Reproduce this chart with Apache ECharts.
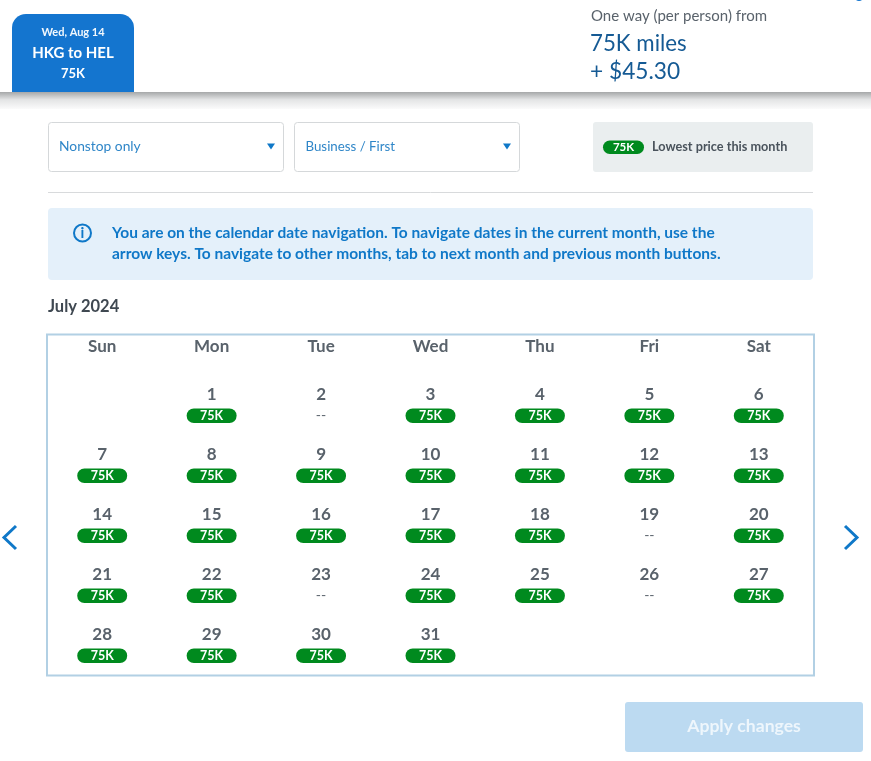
<!DOCTYPE html>
<html>
<head>
<meta charset="utf-8">
<style>
  html, body { margin: 0; padding: 0; background: #fff; }
  #main { width: 871px; height: 761px; }
</style>
<script src="https://cdn.jsdelivr.net/npm/echarts@6/dist/echarts.min.js"></script>
</head>
<body>
<div id="main"></div>
<script>
var weekdays = ['Sun', 'Mon', 'Tue', 'Wed', 'Thu', 'Fri', 'Sat'];
var weeks = ['w1', 'w2', 'w3', 'w4', 'w5'];
var firstWeekday = 1; // 1 July 2024 is a Monday
// price per day of July, thousand miles, null = no flight
var prices = [75, null, 75, 75, 75, 75, 75, 75, 75, 75, 75, 75, 75, 75, 75, 75, 75, 75, null, 75, 75, 75, null, 75, 75, null, 75, 75, 75, 75, 75];

var font = 'Lato';
var blue = '#0f78c8';
var green = '#008a1e';
var grey = '#59626b';

var cells = prices.map(function (p, i) {
    var pos = i + firstWeekday;
    return [pos % 7, Math.floor(pos / 7), i + 1, p];
});

function txt(x, y, text, size, color, weight, align) {
    return {
        type: 'text', x: x, y: y, silent: true,
        style: {
            text: text, fontFamily: font, fontSize: size, fill: color,
            fontWeight: weight || 'normal', textAlign: align || 'left', textVerticalAlign: 'middle'
        }
    };
}
function box(x, y, w, h, fill, stroke, r) {
    return {
        type: 'rect', silent: true,
        shape: { x: x, y: y, width: w, height: h, r: r === undefined ? 3 : r },
        style: { fill: fill, stroke: stroke || null, lineWidth: stroke ? 1 : 0 }
    };
}
function triangle(cx, cy) {
    return {
        type: 'polygon', silent: true,
        shape: { points: [[cx - 4, cy - 3], [cx + 4, cy - 3], [cx, cy + 3]] },
        style: { fill: blue }
    };
}
function chevron(points) {
    return {
        type: 'polyline', silent: true,
        shape: { points: points },
        style: { stroke: '#0f78c8', fill: null, lineWidth: 3 }
    };
}

var option = {
    animation: false,
    backgroundColor: '#fff',
    textStyle: { fontFamily: font },
    grid: { left: 47.5, top: 375, width: 766, height: 300, containLabel: false, show: false },
    xAxis: {
        type: 'category', position: 'top', data: weekdays,
        axisLine: { show: false }, axisTick: { show: false }, splitLine: { show: false },
        axisLabel: { color: grey, fontSize: 17, fontWeight: 'bold', fontFamily: font, margin: 20 }
    },
    yAxis: {
        type: 'category', inverse: true, data: weeks, show: false
    },
    graphic: {
        elements: [
            // page header
            { type: 'rect', silent: true, shape: { x: 0, y: 92, width: 871, height: 17 },
              style: { fill: { type: 'linear', x: 0, y: 0, x2: 0, y2: 1, colorStops: [
                  { offset: 0, color: '#a6a8a9' }, { offset: 0.45, color: '#e3e4e5' }, { offset: 1, color: '#fbfbfb' }
              ] } } },
            box(12, 14, 122, 78, '#1475cf', null, [14, 14, 0, 0]),
            txt(73, 32, 'Wed, Aug 14', 11, '#f2f8fd', 'bold', 'center'),
            txt(73, 53, 'HKG to HEL', 15, '#ffffff', 'bold', 'center'),
            txt(73, 74, '75K', 13, '#ffffff', 'bold', 'center'),
            txt(591, 16, 'One way (per person) from', 15, '#59626b'),
            txt(590, 44, '75K miles', 22.3, '#155a94'),
            txt(590, 72, '+ $45.30', 22.7, '#155a94'),
            { type: 'circle', silent: true, shape: { cx: 859, cy: -4, r: 5 }, style: { fill: '#1475cf' } },

            // filters
            box(48.5, 122.5, 235, 49, '#fff', '#d5d8da'),
            txt(59, 146.5, 'Nonstop only', 13.8, '#2f86c8'),
            triangle(271, 146.5),
            box(294.5, 122.5, 225, 49, '#fff', '#d5d8da'),
            txt(305.5, 146.5, 'Business / First', 13.3, '#2f86c8'),
            triangle(507, 146.5),
            box(593, 122, 220, 50, '#eaeeef', null),
            box(603, 140.5, 41, 13.5, green, null, 6.7),
            txt(623.5, 147.5, '75K', 11.5, '#fff', 'bold', 'center'),
            txt(652, 146.5, 'Lowest price this month', 12.7, '#4a535c', 'bold'),
            { type: 'line', silent: true, shape: { x1: 48, y1: 192.5, x2: 813, y2: 192.5 }, style: { stroke: '#d8dadc', lineWidth: 1 } },

            // notice
            box(48, 208, 765, 72, '#e4f0fa', null, 4),
            { type: 'circle', silent: true, shape: { cx: 82.5, cy: 233, r: 8.5 }, style: { fill: null, stroke: '#0f78c8', lineWidth: 2 } },
            txt(82.5, 233.5, 'i', 15, '#0f78c8', 'bold', 'center'),
            txt(112, 233, 'You are on the calendar date navigation. To navigate dates in the current month, use the', 15.5, '#0f78c8', 'bold'),
            txt(112, 254, 'arrow keys. To navigate to other months, tab to next month and previous month buttons.', 15.5, '#0f78c8', 'bold'),

            // calendar frame
            txt(48, 307, 'July 2024', 16.5, '#3f4851', 'bold'),
            { type: 'rect', silent: true, shape: { x: 47, y: 334.5, width: 767, height: 341 }, style: { fill: null, stroke: '#b2d0e4', lineWidth: 2 } },
            chevron([[16, 526], [4, 537.5], [16, 549]]),
            chevron([[845, 526], [857, 537.5], [845, 549]]),

            // apply
            box(625, 702, 238, 50, '#bcdaf1', null, 3),
            txt(744, 726.5, 'Apply changes', 17.6, '#eef6fc', 'bold', 'center')
        ]
    },
    series: [{
        type: 'custom',
        coordinateSystem: 'cartesian2d',
        silent: true,
        encode: { x: 0, y: 1 },
        data: cells,
        renderItem: function (params, api) {
            var c = api.coord([api.value(0), api.value(1)]);
            var price = api.value(3);
            var kids = [{
                type: 'text', x: c[0], y: c[1] - 10,
                style: { text: String(api.value(2)), fontFamily: font, fontSize: 17, fontWeight: 'bold', fill: grey, textAlign: 'center', textVerticalAlign: 'middle' }
            }];
            if (isNaN(price)) {
                kids.push({
                    type: 'text', x: c[0], y: c[1] + 10,
                    style: { text: '--', fontFamily: font, fontSize: 14, fill: grey, textAlign: 'center', textVerticalAlign: 'middle' }
                });
            } else {
                kids.push({
                    type: 'rect',
                    shape: { x: c[0] - 25, y: c[1] + 3.5, width: 50, height: 14.5, r: 7.2 },
                    style: { fill: green }
                });
                kids.push({
                    type: 'text', x: c[0], y: c[1] + 11,
                    style: { text: price + 'K', fontFamily: font, fontSize: 12.5, fontWeight: 'bold', fill: '#fff', textAlign: 'center', textVerticalAlign: 'middle' }
                });
            }
            return { type: 'group', children: kids };
        }
    }]
};

echarts.init(document.getElementById('main'), null, { renderer: 'canvas' }).setOption(option);
</script>
</body>
</html>
